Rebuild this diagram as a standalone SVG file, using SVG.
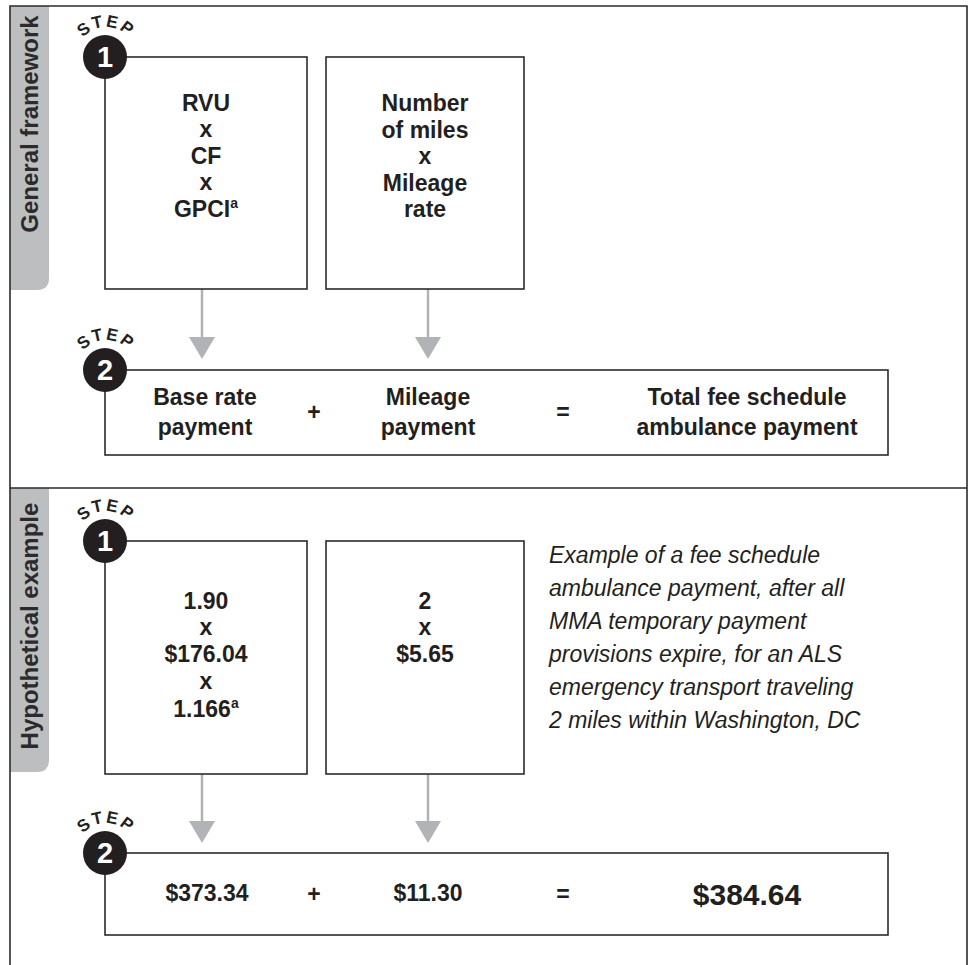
<svg xmlns="http://www.w3.org/2000/svg" width="972" height="965" viewBox="0 0 972 965">
<style>
.frame{fill:none;stroke:#2b2b2b;stroke-width:1.6}
.tab{fill:#bcbec0}
.tabt{font-family:"Liberation Sans",Arial,sans-serif;font-weight:bold;font-size:24px;fill:#2b2b2b}
.box{fill:#fff;stroke:#2b2b2b;stroke-width:1.6}
.t{font-family:"Liberation Sans",Arial,sans-serif;font-weight:bold;font-size:23px;fill:#231f20;text-anchor:middle}
.big{font-size:30px}
.sup{font-size:14px}
.it{font-family:"Liberation Sans",Arial,sans-serif;font-style:italic;font-size:23px;fill:#231f20}
.arr{stroke:#b1b3b6;stroke-width:2.5;fill:none}
.head{fill:#b1b3b6}
.circ{fill:#231f20}
.num{font-family:"Liberation Sans",Arial,sans-serif;font-weight:bold;font-size:29px;fill:#fff;text-anchor:middle}
.step{font-family:"Liberation Sans",Arial,sans-serif;font-weight:bold;font-size:17px;fill:#231f20;letter-spacing:2px}
</style>
<defs>
<path id="arcA" d="M 76,57 A 30,30 0 0 1 136,57"/>
<path id="arcB" d="M 76,370 A 30,30 0 0 1 136,370"/>
<path id="arcC" d="M 76,541 A 30,30 0 0 1 136,541"/>
<path id="arcD" d="M 76,853 A 30,30 0 0 1 136,853"/>
</defs>
<rect width="972" height="965" fill="#fff"/>
<g id="frame">
<path class="tab" d="M10,6 H49 V278 Q49,290 37,290 H10 Z"/>
<path class="tab" d="M10,488 H49 V760 Q49,772 37,772 H10 Z"/>
<path class="frame" d="M10,965 V6 H967 V965 M10,488 H967"/>
<text class="tabt" transform="translate(38,124) rotate(-90)" text-anchor="middle">General framework</text>
<text class="tabt" transform="translate(38,626) rotate(-90)" text-anchor="middle">Hypothetical example</text>
</g>
<g id="connectors">
<line class="arr" x1="202" y1="289" x2="202" y2="338"/>
<polygon class="head" points="189,337 215,337 202,359"/>
<line class="arr" x1="428" y1="289" x2="428" y2="338"/>
<polygon class="head" points="415,337 441,337 428,359"/>
<line class="arr" x1="202" y1="774" x2="202" y2="822"/>
<polygon class="head" points="189,821 215,821 202,843"/>
<line class="arr" x1="428" y1="774" x2="428" y2="822"/>
<polygon class="head" points="415,821 441,821 428,843"/>
</g>
<g id="gf-box1">
<rect class="box" x="105" y="57" width="202" height="232"/>
<text class="t" x="206" y="111">RVU</text>
<text class="t" x="206" y="137">x</text>
<text class="t" x="206" y="164">CF</text>
<text class="t" x="206" y="190">x</text>
<text class="t" x="206" y="217">GPCI<tspan class="sup" dy="-9">a</tspan></text>
</g>
<g id="gf-box2">
<rect class="box" x="326" y="57" width="198" height="232"/>
<text class="t" x="425" y="111">Number</text>
<text class="t" x="425" y="138">of miles</text>
<text class="t" x="425" y="164">x</text>
<text class="t" x="425" y="191">Mileage</text>
<text class="t" x="425" y="217">rate</text>
</g>
<g id="gf-step2">
<rect class="box" x="105" y="370" width="783" height="85"/>
<text class="t" x="205" y="405">Base rate</text>
<text class="t" x="205" y="435">payment</text>
<text class="t" x="314" y="420">+</text>
<text class="t" x="428" y="405">Mileage</text>
<text class="t" x="428" y="435">payment</text>
<text class="t" x="563" y="420">=</text>
<text class="t" x="747" y="405">Total fee schedule</text>
<text class="t" x="747" y="435">ambulance payment</text>
</g>
<g id="he-box1">
<rect class="box" x="105" y="541" width="202" height="233"/>
<text class="t" x="206" y="609">1.90</text>
<text class="t" x="206" y="635">x</text>
<text class="t" x="206" y="662">$176.04</text>
<text class="t" x="206" y="689">x</text>
<text class="t" x="206" y="717">1.166<tspan class="sup" dy="-9">a</tspan></text>
</g>
<g id="he-box2">
<rect class="box" x="326" y="541" width="198" height="233"/>
<text class="t" x="425" y="609">2</text>
<text class="t" x="425" y="635">x</text>
<text class="t" x="425" y="662">$5.65</text>
</g>
<g id="he-note">
<text class="it" x="549" y="563">Example of a fee schedule</text>
<text class="it" x="549" y="596">ambulance payment, after all</text>
<text class="it" x="549" y="629">MMA temporary payment</text>
<text class="it" x="549" y="662">provisions expire, for an ALS</text>
<text class="it" x="549" y="695">emergency transport traveling</text>
<text class="it" x="549" y="728">2 miles within Washington, DC</text>
</g>
<g id="he-step2">
<rect class="box" x="105" y="853" width="783" height="82"/>
<text class="t" x="207" y="901">$373.34</text>
<text class="t" x="314" y="902">+</text>
<text class="t" x="428" y="901">$11.30</text>
<text class="t" x="563" y="902">=</text>
<text class="t big" x="747" y="905">$384.64</text>
</g>
<g id="step-badges">
<circle class="circ" cx="105" cy="57" r="22"/>
<text class="num" x="105" y="67">1</text>
<text class="step"><textPath href="#arcA" startOffset="50%" text-anchor="middle">STEP</textPath></text>
<circle class="circ" cx="105" cy="370" r="22"/>
<text class="num" x="105" y="380">2</text>
<text class="step"><textPath href="#arcB" startOffset="50%" text-anchor="middle">STEP</textPath></text>
<circle class="circ" cx="105" cy="541" r="22"/>
<text class="num" x="105" y="551">1</text>
<text class="step"><textPath href="#arcC" startOffset="50%" text-anchor="middle">STEP</textPath></text>
<circle class="circ" cx="105" cy="853" r="22"/>
<text class="num" x="105" y="863">2</text>
<text class="step"><textPath href="#arcD" startOffset="50%" text-anchor="middle">STEP</textPath></text>
</g>
</svg>
